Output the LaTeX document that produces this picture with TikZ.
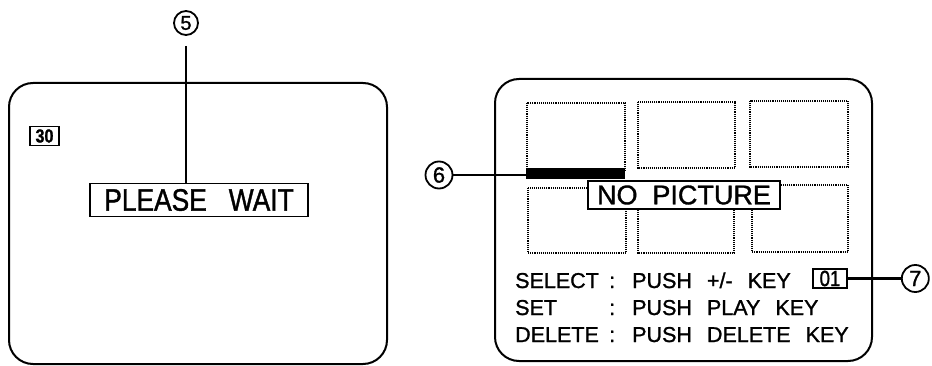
\documentclass[tikz,border=0pt]{standalone}
\usepackage{fontspec}
\setmainfont{Liberation Sans}[FakeBold=1.2]
\newfontfamily\narrowfont{Liberation Sans}[FakeStretch=0.85,FakeBold=1.2]
\usetikzlibrary{positioning}

\begin{document}
\begin{tikzpicture}[x=1pt,y=-1pt,
  screen/.style={line width=2pt,rounded corners=24pt},
  thumb/.style={densely dotted,line width=1.1pt},
  osd/.style={draw,line width=1.8pt,fill=white,inner sep=0pt},
  num/.style={circle,draw,line width=1.8pt,minimum size=24pt,inner sep=0pt,font=\fontsize{20}{20}\selectfont},
  bignum/.style={num,minimum size=27pt,font=\fontsize{22}{22}\selectfont},
  lead/.style={line width=2.4pt},
  menu/.style={anchor=base west,inner sep=0pt,font={\fontsize{21.5}{26}\selectfont\spaceskip=0.7em\relax}}]
\useasboundingbox (0,0) rectangle (932,366);
% left screen
\draw[screen] (9,83) rectangle (387,364);
\node[osd,minimum width=29pt,minimum height=19pt,font=\narrowfont\bfseries\fontsize{19}{19}\selectfont] (cnt) at (44.5,136) {30};
\node[osd,minimum width=218pt,minimum height=33pt,font=\narrowfont\fontsize{31}{31}\selectfont] (wait) at (199,200) {PLEASE\hspace{22pt}WAIT};
\node[num] (n5) at (186,23) {5};
\draw[lead,shorten <=10pt] (n5) -- (n5 |- wait.north);
% right screen
\draw[screen] (495,79) rectangle (872,361);
\foreach \xa/\ya/\xb/\yb in {527/103/625/172, 638/102/735/168, 750/101/848/167,
                            528/188/626/253, 638/187/734/253, 752/185/848/252}
  \draw[thumb] (\xa,\ya) rectangle (\xb,\yb);
\node[fill=black,minimum width=99pt,minimum height=11pt,inner sep=0pt] (cursor) at (575.5,174) {};
\node[osd,minimum width=192pt,minimum height=28pt,font={\fontsize{27}{27}\selectfont\spaceskip=0.55em\relax}] (nopic) at (684,195) {NO PICTURE};
\node[bignum] (n6) at (439,175) {6};
\draw[lead] (n6) -- (n6 -| cursor.west);
\node[menu] (lsel) at (515,288) {SELECT};
\node[menu] (ksel) at (609,288) {: PUSH +/- KEY};
\node[menu] (lset) at (515,315) {SET};
\node[menu] (kset) at (609,315) {: PUSH PLAY KEY};
\node[menu] (ldel) at (515,342) {DELETE};
\node[menu] (kdel) at (609,342) {: PUSH DELETE KEY};
\node[osd,minimum width=34pt,minimum height=19pt,font=\narrowfont\fontsize{22}{22}\selectfont] (box01) at (830,278.5) {01};
\node[bignum,right=53pt of box01] (n7) {7};
\draw[lead] (box01) -- (n7);
\end{tikzpicture}
\end{document}
